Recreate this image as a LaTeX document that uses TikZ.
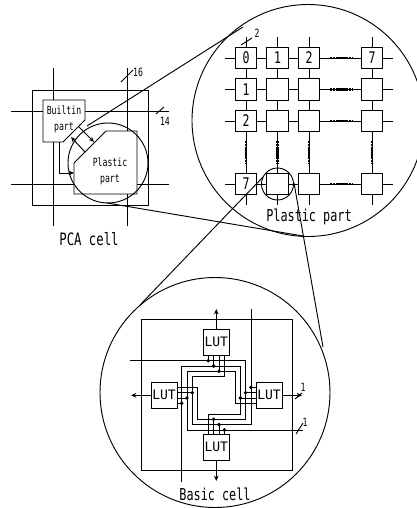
\documentclass[tikz,border=0pt]{standalone}
\usepackage{fontspec}
\usepackage{tikz}
\usetikzlibrary{arrows.meta, positioning}
\newfontfamily\labelfont[FakeStretch=0.72]{DejaVu Sans Mono}
\newfontfamily\lutfont{DejaVu Sans Mono}
\tikzset{
  wire/.style={line width=0.7pt},
  cellbox/.style={draw, line width=0.7pt, fill=white, minimum size=16pt, inner sep=0pt, font=\labelfont\fontsize{12}{12}\selectfont},
  lutbox/.style={draw, line width=0.7pt, fill=white, minimum size=19.5pt, inner sep=0pt, font=\lutfont\fontsize{9.75}{12}\selectfont},
  tag/.style={inner sep=0pt, font=\labelfont\fontsize{8.5}{12}\selectfont, align=center},
  caption/.style={inner sep=0pt, font=\labelfont\fontsize{12.3}{12}\selectfont},
  flow/.style={wire, -{Stealth[length=4pt, width=3.5pt]}},
  dotline/.style={line width=1.9pt, dash pattern=on 1.7pt off 0.6pt}
}
\begin{document}
\begin{tikzpicture}[x=0.75pt, y=-0.75pt]
  \useasboundingbox (0,0) rectangle (417,508);
  \clip (0,0) rectangle (417,508);
  % PCA cell
  \draw[wire] (32,90) rectangle (148,205);
  \draw[wire] (53,68) -- (53,226);
  \draw[wire] (127,68) -- (127,226);
  \draw[wire] (11,111) -- (169,111);
  \draw[wire] (11,184) -- (169,184);
  \draw[wire] (121,82) -- (133,70);
  \draw[wire] (156,114) -- (164,107);
  \node[tag] (bus16) at (138,72) {16};
  \node[tag] (bus14) at (165,121) {14};
  % Builtin part, Plastic part
  \draw[wire, fill=white] (43,100) -- (85,100) -- (85,120) -- (63,142) -- (43,142) -- cycle;
  \node[tag] (builtin) at (64,119) {Builtin\\part};
  \draw[wire, fill=white] (74,163) -- (106,131) -- (137,131) -- (137,194) -- (74,194) -- cycle;
  \node[tag] (plastic) at (110,171) {Plastic\\part};
  \draw[wire] (108,163) circle (40);
  \draw[flow] (85,152) -- (71,137);
  \draw[flow] (79,127) -- (94,142);
  \draw[flow] (59.5,142) -- (59.5,173) -- (74,173);
  \node[caption, font=\labelfont\fontsize{12.8}{12}\selectfont] (pcacell) at (89,239) {PCA cell};
  % Zoom lines
  \draw[wire] (87,126) -- (243,27);
  \draw[wire] (107,203) -- (303,236);
  \draw[wire] (308,120.5) circle (116);
  \draw[wire] (215,392.5) circle (115);
  % Plastic part grid
  \foreach \y in {58,89.5,121,184} {
    \draw[wire] (225,\y) -- (393,\y);
  }
  \foreach \x in {246,277.5,309,372} {
    \draw[wire] (\x,37) -- (\x,205);
  }
  \foreach \x/\col in {246/0,277.5/1,309/2,372/7} {
    \foreach \y/\row in {58/0,89.5/1,121/2,184/7} {
      \node[cellbox] (c\col\row) at (\x,\y) {};
    }
  }
  \foreach \col in {0,1,2,7} {
    \node[cellbox, draw=none, fill=none] (top\col) at (c\col0) {\col};
  }
  \foreach \row in {1,2,7} {
    \node[cellbox, draw=none, fill=none] (side\row) at (c0\row) {\row};
  }
  \foreach \row in {0,1,2,7} {
    \draw[dotline] (c2\row.east) ++(10,0) -- ++(23,0);
  }
  \foreach \col in {0,1,2,7} {
    \draw[dotline] (c\col2.south) ++(0,9) -- ++(0,23);
  }
  \draw[wire] (241,45) -- (252,38);
  \node[tag] (bus2) at (257,33) {2};
  \draw[wire] (277.5,184) circle (16);
  \draw[wire] (263,177) -- (140,305);
  \draw[wire] (294,183) -- (323,347);
  \node[caption] (plasticpart) at (309,217) {Plastic part};
  % Basic cell
  \draw[wire] (141,319) rectangle (292,470);
  \node[lutbox] (luttop) at (216.3,342) {LUT};
  \node[lutbox] (lutleft) at (164,395.3) {LUT};
  \node[lutbox] (lutright) at (269,395.3) {LUT};
  \node[lutbox] (lutbottom) at (216.3,447) {LUT};
  \coordinate (outtop) at (216.3,309);
  \coordinate (outbottom) at (216.3,481);
  \coordinate (outleft) at (131,395.3);
  \coordinate (outright) at (302,395.3);
  \draw[flow] (luttop) -- (outtop);
  \draw[flow] (lutbottom) -- (outbottom);
  \draw[flow] (lutleft) -- (outleft);
  \draw[flow] (lutright) -- (outright);
  % One wire and its pins, turned to each side
  \foreach \a in {0,90,180,270} {
    \begin{scope}[shift={(216.3,395.3)}, rotate=-\a, x=4pt, y=-4pt]
      \draw[wire] (-16.2,-6.5) -- (5.5,-6.5) -- (5.5,4.5) -- (-3.5,4.5) -- (-3.5,-1.5) -- (-7.4,-1.5);
      \draw[wire] (-1.5,-6.5) -- (-1.5,-7.4);
      \draw[wire] (-0.5,-5.5) -- (-0.5,-7.4);
      \draw[wire] (0.5,-4.5) -- (0.5,-7.4);
      \fill (-1.5,-6.5) circle (1.45pt);
      \fill (-0.5,-5.5) circle (1.45pt);
      \fill (0.5,-4.5) circle (1.45pt);
    \end{scope}
  }
  \draw[wire] (295,399) -- (302,393);
  \draw[wire] (296,434) -- (303,423);
  \node[tag] (bus1a) at (303,387) {1};
  \node[tag] (bus1b) at (305,422) {1};
  \node[caption] (basiccell) at (215,494) {Basic cell};
\end{tikzpicture}
\end{document}
